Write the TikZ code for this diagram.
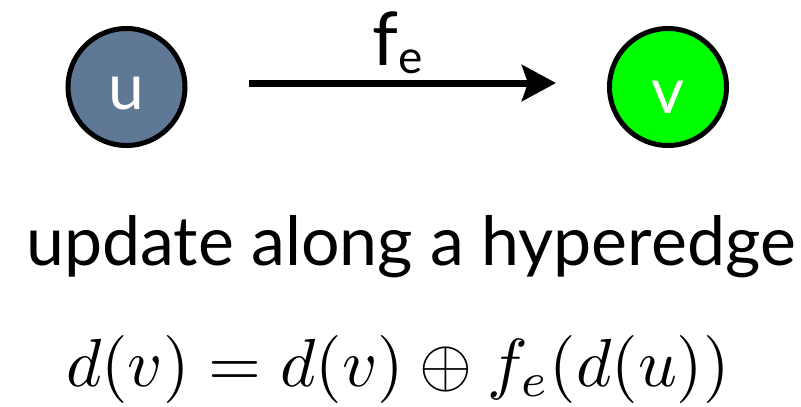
\documentclass[tikz,border=0pt]{standalone}
\usepackage{graphicx}
\usepackage{fontspec}
\setmainfont{Lato}
\usetikzlibrary{arrows.meta}
\definecolor{slate}{RGB}{94,120,150}
\definecolor{vgreen}{RGB}{0,255,0}
\begin{document}
\begin{tikzpicture}[x=1pt,y=-1pt,
  vertex/.style={circle,draw=black,line width=5pt,minimum size=117pt,inner sep=0pt,
    text=white,font=\fontsize{64}{70}\selectfont},
  edgearrow/.style={line width=7pt,-{Stealth[length=34pt,width=36pt,inset=6pt]}},
  caption/.style={font=\fontsize{68}{72}\selectfont,anchor=base},
  formula/.style={anchor=base}]
\useasboundingbox (0,0) rectangle (801,407);
\node[vertex,fill=slate] (u) at (126.5,87) {\raisebox{-22pt}[0pt][0pt]{u}};
\node[vertex,fill=vgreen] (v) at (668,87) {\raisebox{-26pt}[0pt][0pt]{v}};
\draw[edgearrow,shorten <=61pt,shorten >=51pt] ([yshift=4pt]u.east) -- ([yshift=4pt]v.west)
  node[midway,anchor=base,yshift=18pt,font=\fontsize{74}{80}\selectfont,inner sep=0pt] (fe) {f\raisebox{-8pt}{\fontsize{46}{50}\selectfont e}};
\node[caption] (cap) at (411,265) {update along a hyperedge};
\node[formula] (eq) at (398,386) {\scalebox{6.8}{$d(v) = d(v) \oplus f_e(d(u))$}};
\end{tikzpicture}
\end{document}
